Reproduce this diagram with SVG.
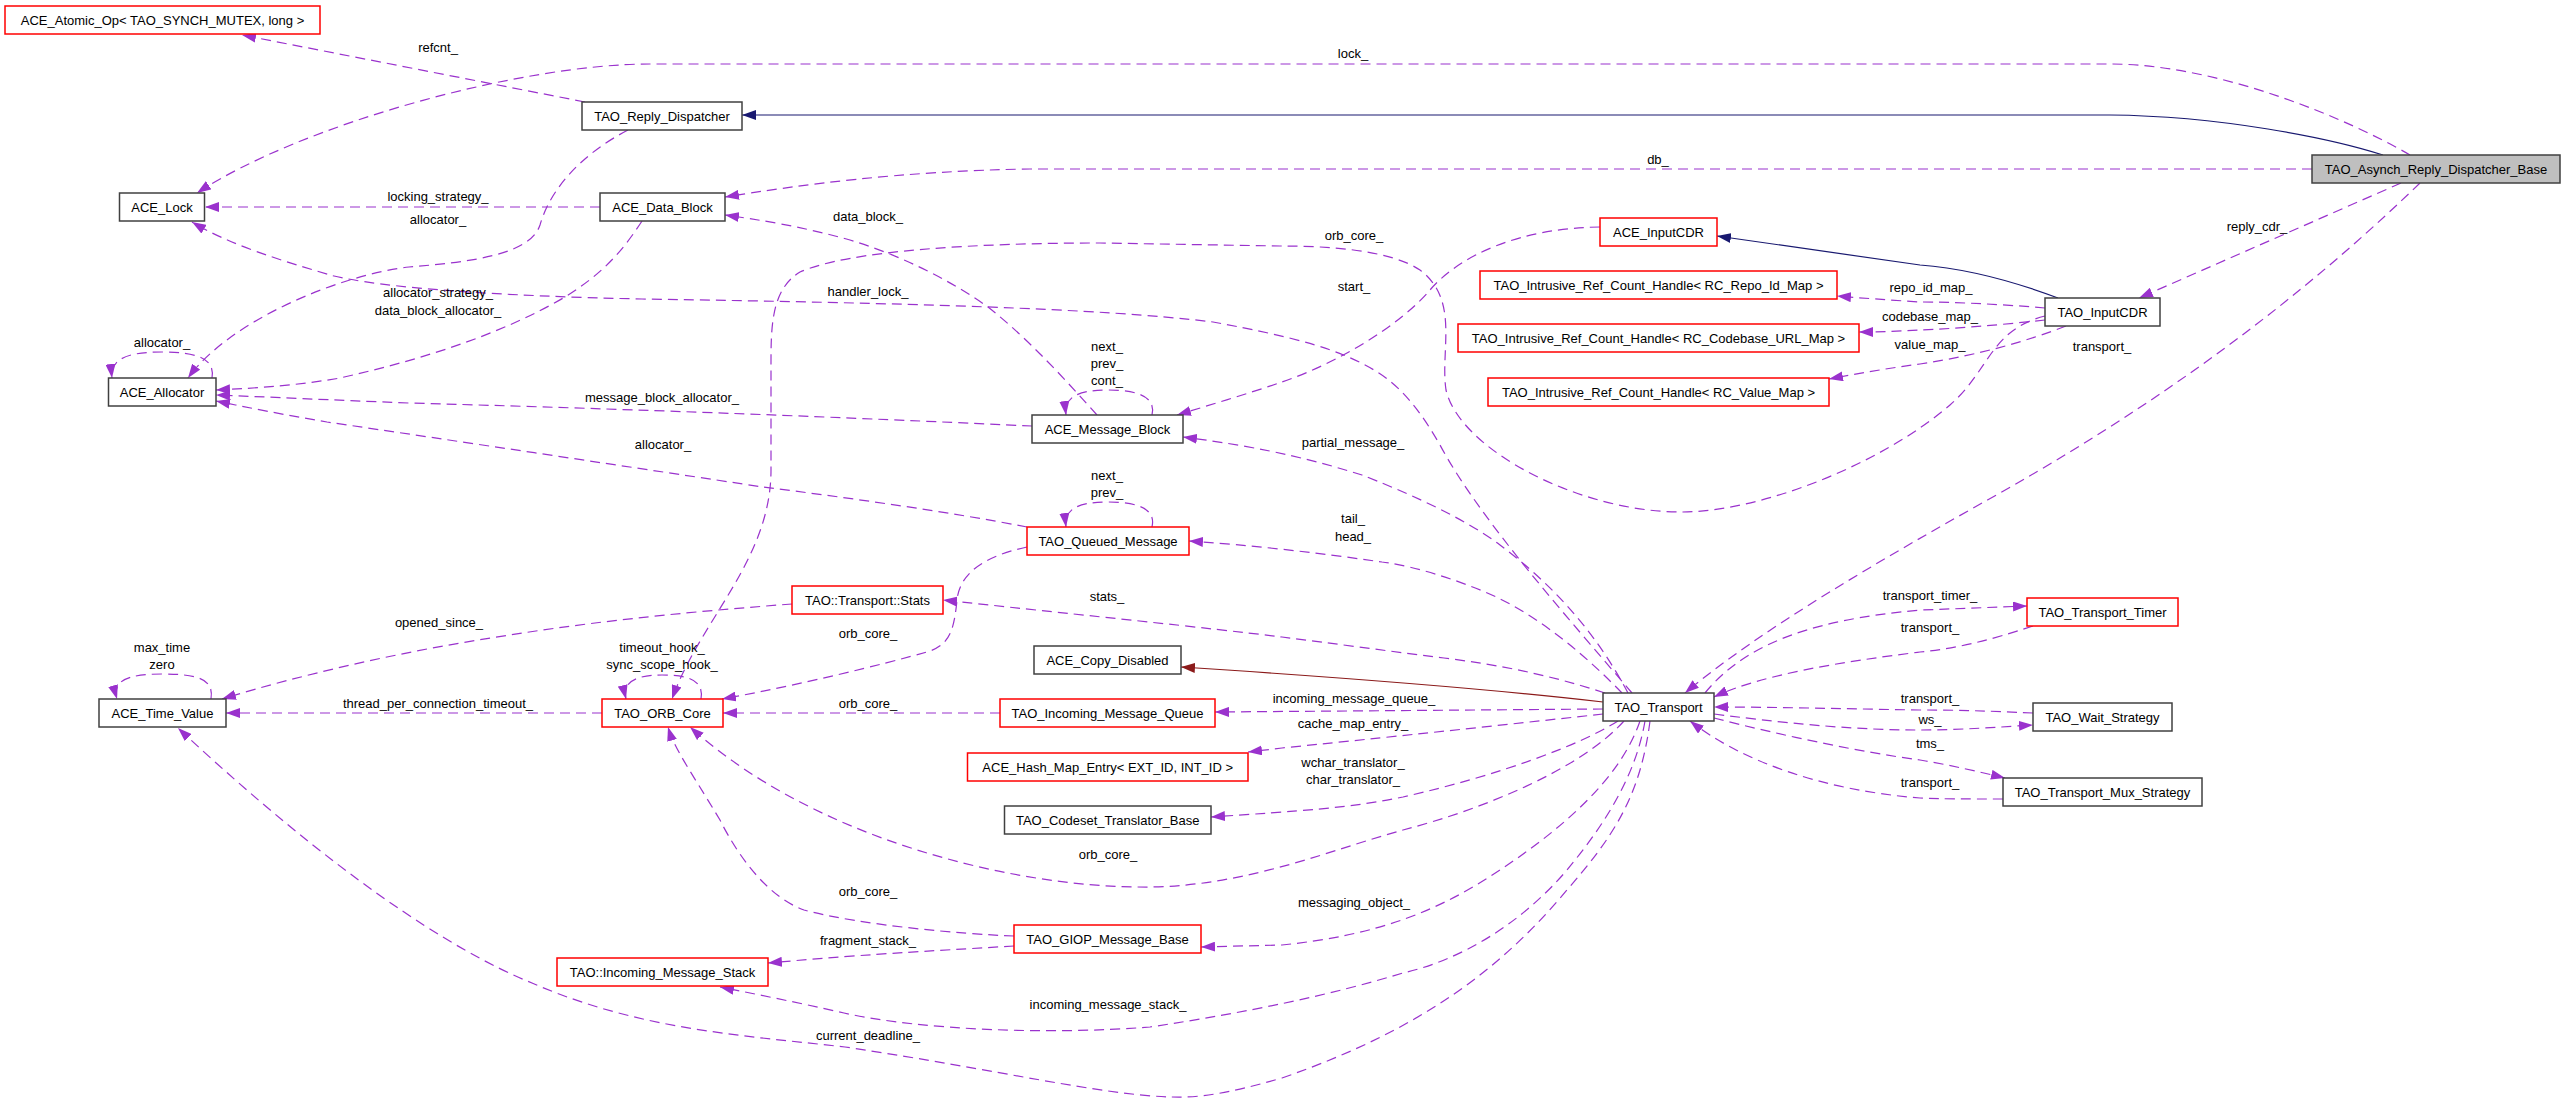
<svg xmlns="http://www.w3.org/2000/svg" width="2565" height="1101" viewBox="0 0 2565 1101">
<style>
text{font-family:"Liberation Sans",Arial,Helvetica,sans-serif;font-size:13px;text-anchor:middle;fill:#000}
.b{fill:#fff;stroke:#404040;stroke-width:1.5}
.r{fill:#fff;stroke:#ff0000;stroke-width:1.5}
.g{fill:#bfbfbf;stroke:#404040;stroke-width:1.5}
.e{fill:none;stroke:#9a32cd;stroke-width:1.2;stroke-dasharray:10,6;marker-end:url(#mp)}
.i{fill:none;stroke:#191970;stroke-width:1.2;marker-end:url(#mn)}
.c{fill:none;stroke:#8b1a1a;stroke-width:1.2;marker-end:url(#mr)}
</style>
<defs>
<marker id="mp" markerUnits="userSpaceOnUse" markerWidth="14" markerHeight="10" refX="14" refY="5" orient="auto"><path d="M0,0 L14,5 L0,10 z" fill="#9a32cd" stroke="none"/></marker>
<marker id="mn" markerUnits="userSpaceOnUse" markerWidth="14" markerHeight="10" refX="14" refY="5" orient="auto"><path d="M0,0 L14,5 L0,10 z" fill="#191970" stroke="none"/></marker>
<marker id="mr" markerUnits="userSpaceOnUse" markerWidth="14" markerHeight="10" refX="14" refY="5" orient="auto"><path d="M0,0 L14,5 L0,10 z" fill="#8b1a1a" stroke="none"/></marker>
</defs>
<rect width="2565" height="1101" fill="#fff"/>
<g id="connectors">
<path class="i" d="M2383,155 C2330,138 2220,116 2110,115 L742,115"/>
<path class="e" d="M2410,155 C2350,120 2220,64 2110,64 L650,64 C520,64 300,125 197,193"/>
<path class="e" d="M2312,169 L1030,169 C900,171 800,185 725,197"/>
<path class="e" d="M2401,183 L2139,298"/>
<path class="e" d="M2420,183 C2330,270 2200,380 2000,493 C1880,560 1760,630 1685,693"/>
<path class="i" d="M2058,298 C2010,280 1960,268 1920,265 C1850,255 1780,245 1717,236"/>
<path class="e" d="M2045,308 C2000,304 1950,302 1920,302 C1890,300 1860,298 1837,296"/>
<path class="e" d="M2045,320 C2000,325 1950,329 1920,330 C1900,331 1880,332 1859,332"/>
<path class="e" d="M2066,326 C2030,340 1980,355 1920,364 C1890,368 1860,373 1829,379"/>
<path class="e" d="M2045,316 C1990,330 1990,370 1950,405 C1880,465 1760,512 1681,512 C1580,512 1460,450 1446,390 C1440,350 1460,300 1420,270 C1390,250 1330,246 1280,246 L1100,243 C980,243 850,250 800,272 C770,290 771,330 771,370 L771,470 C771,560 700,620 672,699"/>
<path class="e" d="M1600,227 C1520,228 1460,255 1430,290 C1400,325 1340,362 1282,382 C1250,393 1210,405 1177,415"/>
<path class="e" d="M1097,415 C1070,385 1030,340 988,307 C950,280 900,255 850,240 C800,226 760,220 725,215"/>
<path class="e" d="M600,207 L205,207"/>
<path class="e" d="M642,221 C620,255 600,275 565,297 C500,335 420,360 340,378 C300,385 260,388 216,390"/>
<path class="e" d="M628,130 C580,155 550,190 540,225 C530,255 470,262 409,267 C340,275 230,320 188,378"/>
<path class="e" d="M585,102 L242,35"/>
<path class="e" d="M1632,693 C1570,620 1480,520 1440,445 C1420,410 1400,385 1374,370 C1340,350 1300,338 1213,322 C1100,308 900,303 642,299 C500,296 380,288 330,275 C280,260 230,245 192,222"/>
<path class="e" d="M1628,693 C1600,640 1560,590 1500,545 C1460,515 1400,490 1362,475 C1320,462 1270,448 1183,437"/>
<path class="e" d="M1622,693 C1590,660 1540,615 1485,592 C1440,573 1400,564 1382,562 C1320,553 1250,545 1189,541"/>
<path class="e" d="M1605,693 C1550,675 1500,665 1444,658 C1380,650 1330,643 1282,637 C1200,627 1100,617 943,600"/>
<path class="e" d="M1603,709 L1215,712"/>
<path class="c" d="M1603,702 C1500,690 1350,678 1181,667"/>
<path class="e" d="M1603,714 C1530,722 1420,734 1282,748 L1248,752"/>
<path class="e" d="M1618,721 C1580,745 1500,775 1403,797 C1350,808 1300,811 1211,817"/>
<path class="e" d="M1624,721 C1580,770 1480,810 1403,830 C1330,850 1250,885 1152,887 C1080,888 1000,875 927,853 C850,830 760,790 690,727"/>
<path class="e" d="M1640,721 C1620,780 1560,830 1500,870 C1440,910 1380,935 1282,945 L1201,947"/>
<path class="e" d="M1645,721 C1635,780 1600,830 1567,870 C1520,925 1460,960 1403,973 C1330,995 1250,1012 1150,1027 C1050,1035 920,1030 844,1013 C800,1003 760,995 720,987"/>
<path class="e" d="M1650,721 C1640,800 1610,840 1567,890 C1500,970 1420,1030 1282,1078 C1230,1093 1200,1098 1172,1097 C1100,1095 1000,1070 845,1047 C740,1035 640,1030 532,983 C450,950 330,870 178,728"/>
<path class="e" d="M1014,936 C960,934 860,925 804,910 C770,898 740,860 720,820 C690,770 675,750 668,727"/>
<path class="e" d="M1014,946 C950,950 880,953 768,963"/>
<path class="e" d="M1027,547 C990,555 960,570 957,600 C954,630 950,645 927,652 C880,665 800,685 722,699"/>
<path class="e" d="M1027,527 C950,512 850,498 763,487 C650,470 450,440 327,422 C280,414 250,408 216,401"/>
<path class="e" d="M1032,426 C900,420 700,411 409,403 C330,400 270,397 216,395"/>
<path class="e" d="M1000,713 L723,713"/>
<path class="e" d="M602,713 L226,713"/>
<path class="e" d="M792,604 C700,611 600,620 491,638 C400,652 300,675 222,699"/>
<path class="e" d="M1705,693 C1740,650 1800,620 1922,610 L2027,606"/>
<path class="e" d="M2033,626 C1990,640 1960,648 1920,652 C1840,662 1760,675 1714,697"/>
<path class="e" d="M2033,713 C1990,711 1960,710 1920,710 C1850,709 1780,707 1714,707"/>
<path class="e" d="M1714,714 C1800,725 1860,730 1920,730 C1960,730 2000,727 2033,725"/>
<path class="e" d="M1714,718 C1780,735 1860,752 1920,760 C1950,765 1980,772 2005,778"/>
<path class="e" d="M2003,799 C1970,799 1940,799 1920,798 C1820,790 1740,760 1690,721"/>
<path class="e" d="M212,378 C215,360 200,352 162,352 C125,352 110,360 112,378"/>
<path class="e" d="M211,699 C214,680 200,674 162,674 C125,674 112,682 117,699"/>
<path class="e" d="M1152,415 C1156,398 1140,390 1108,390 C1076,390 1064,398 1066,415"/>
<path class="e" d="M1152,527 C1156,510 1140,502 1108,502 C1076,502 1064,510 1066,527"/>
<path class="e" d="M701,699 C704,681 690,675 662,675 C634,675 622,683 626,699"/>
<text x="438" y="52">refcnt_</text>
<text x="1353" y="58">lock_</text>
<text x="1658" y="164">db_</text>
<text x="438" y="201">locking_strategy_</text>
<text x="438" y="224">allocator_</text>
<text x="868" y="221">data_block_</text>
<text x="1354" y="240">orb_core_</text>
<text x="2257" y="231">reply_cdr_</text>
<text x="1354" y="291">start_</text>
<text x="1931" y="292">repo_id_map_</text>
<text x="868" y="296">handler_lock_</text>
<text x="438" y="297">allocator_strategy_</text>
<text x="438" y="315">data_block_allocator_</text>
<text x="1930" y="321">codebase_map_</text>
<text x="162" y="347">allocator_</text>
<text x="1930" y="349">value_map_</text>
<text x="1107" y="351">next_</text>
<text x="1107" y="368">prev_</text>
<text x="1107" y="385">cont_</text>
<text x="2102" y="351">transport_</text>
<text x="662" y="402">message_block_allocator_</text>
<text x="1353" y="447">partial_message_</text>
<text x="663" y="449">allocator_</text>
<text x="1107" y="480">next_</text>
<text x="1107" y="497">prev_</text>
<text x="1353" y="523">tail_</text>
<text x="1353" y="541">head_</text>
<text x="1930" y="600">transport_timer_</text>
<text x="1107" y="601">stats_</text>
<text x="439" y="627">opened_since_</text>
<text x="1930" y="632">transport_</text>
<text x="868" y="638">orb_core_</text>
<text x="162" y="652">max_time</text>
<text x="162" y="669">zero</text>
<text x="662" y="652">timeout_hook_</text>
<text x="662" y="669">sync_scope_hook_</text>
<text x="1354" y="703">incoming_message_queue_</text>
<text x="1930" y="703">transport_</text>
<text x="868" y="708">orb_core_</text>
<text x="438" y="708">thread_per_connection_timeout_</text>
<text x="1930" y="724">ws_</text>
<text x="1353" y="728">cache_map_entry_</text>
<text x="1930" y="748">tms_</text>
<text x="1353" y="767">wchar_translator_</text>
<text x="1353" y="784">char_translator_</text>
<text x="1930" y="787">transport_</text>
<text x="1108" y="859">orb_core_</text>
<text x="868" y="896">orb_core_</text>
<text x="1354" y="907">messaging_object_</text>
<text x="868" y="945">fragment_stack_</text>
<text x="1108" y="1009">incoming_message_stack_</text>
<text x="868" y="1040">current_deadline_</text>
</g>
<g id="node_asynch"><rect class="g" x="2312" y="155" width="248" height="28"/><text x="2436" y="173.5">TAO_Asynch_Reply_Dispatcher_Base</text></g>
<g id="node_reply_dispatcher"><rect class="b" x="582" y="102" width="160" height="28"/><text x="662" y="120.5">TAO_Reply_Dispatcher</text></g>
<g id="node_atomic_op"><rect class="r" x="5" y="6" width="315" height="28"/><text x="162.5" y="24.5">ACE_Atomic_Op&lt; TAO_SYNCH_MUTEX, long &gt;</text></g>
<g id="node_lock"><rect class="b" x="119.5" y="193" width="85" height="28"/><text x="162" y="211.5">ACE_Lock</text></g>
<g id="node_data_block"><rect class="b" x="600" y="193" width="125" height="28"/><text x="662.5" y="211.5">ACE_Data_Block</text></g>
<g id="node_allocator"><rect class="b" x="108.5" y="378" width="107.5" height="28"/><text x="162" y="396.5">ACE_Allocator</text></g>
<g id="node_time_value"><rect class="b" x="99" y="699" width="127" height="28"/><text x="162.5" y="717.5">ACE_Time_Value</text></g>
<g id="node_orb_core"><rect class="r" x="602" y="699" width="121" height="28"/><text x="662.5" y="717.5">TAO_ORB_Core</text></g>
<g id="node_message_block"><rect class="b" x="1032" y="415" width="151" height="28"/><text x="1107.5" y="433.5">ACE_Message_Block</text></g>
<g id="node_queued_message"><rect class="r" x="1027" y="527" width="162" height="28"/><text x="1108" y="545.5">TAO_Queued_Message</text></g>
<g id="node_stats"><rect class="r" x="792" y="586" width="151" height="28"/><text x="867.5" y="604.5">TAO::Transport::Stats</text></g>
<g id="node_copy_disabled"><rect class="b" x="1034" y="646" width="147" height="28"/><text x="1107.5" y="664.5">ACE_Copy_Disabled</text></g>
<g id="node_incoming_queue"><rect class="r" x="1000" y="699" width="215" height="28"/><text x="1107.5" y="717.5">TAO_Incoming_Message_Queue</text></g>
<g id="node_ace_inputcdr"><rect class="r" x="1600" y="218" width="117" height="28"/><text x="1658.5" y="236.5">ACE_InputCDR</text></g>
<g id="node_repo_id_map"><rect class="r" x="1480" y="271" width="357" height="28"/><text x="1658.5" y="289.5">TAO_Intrusive_Ref_Count_Handle&lt; RC_Repo_Id_Map &gt;</text></g>
<g id="node_codebase_map"><rect class="r" x="1458" y="324" width="401" height="28"/><text x="1658.5" y="342.5">TAO_Intrusive_Ref_Count_Handle&lt; RC_Codebase_URL_Map &gt;</text></g>
<g id="node_value_map"><rect class="r" x="1488" y="378" width="341" height="28"/><text x="1658.5" y="396.5">TAO_Intrusive_Ref_Count_Handle&lt; RC_Value_Map &gt;</text></g>
<g id="node_transport"><rect class="b" x="1603" y="693" width="111" height="28"/><text x="1658.5" y="711.5">TAO_Transport</text></g>
<g id="node_tao_inputcdr"><rect class="b" x="2045" y="298" width="115" height="28"/><text x="2102.5" y="316.5">TAO_InputCDR</text></g>
<g id="node_transport_timer"><rect class="r" x="2027" y="598" width="151" height="28"/><text x="2102.5" y="616.5">TAO_Transport_Timer</text></g>
<g id="node_wait_strategy"><rect class="b" x="2033" y="703" width="139" height="28"/><text x="2102.5" y="721.5">TAO_Wait_Strategy</text></g>
<g id="node_mux_strategy"><rect class="b" x="2003" y="778" width="199" height="28"/><text x="2102.5" y="796.5">TAO_Transport_Mux_Strategy</text></g>
<g id="node_hash_map_entry"><rect class="r" x="967.5" y="753" width="280.5" height="28"/><text x="1107.7" y="771.5">ACE_Hash_Map_Entry&lt; EXT_ID, INT_ID &gt;</text></g>
<g id="node_codeset"><rect class="b" x="1004.5" y="806" width="206.5" height="28"/><text x="1107.7" y="824.5">TAO_Codeset_Translator_Base</text></g>
<g id="node_giop"><rect class="r" x="1014" y="925" width="187" height="28"/><text x="1107.5" y="943.5">TAO_GIOP_Message_Base</text></g>
<g id="node_incoming_stack"><rect class="r" x="557" y="958" width="211" height="28"/><text x="662.5" y="976.5">TAO::Incoming_Message_Stack</text></g>
</svg>
